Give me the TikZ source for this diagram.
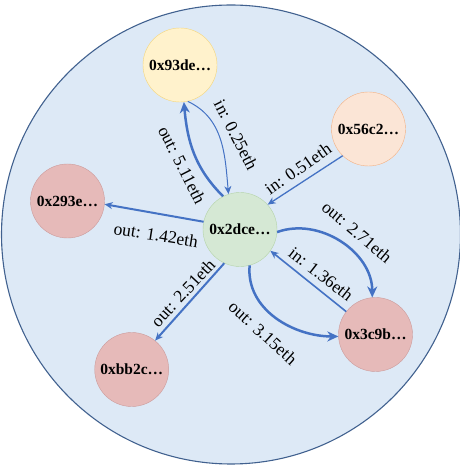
\documentclass[tikz,border=0pt]{standalone}
\usepackage{fontspec}
\setmainfont{Liberation Serif}
\usetikzlibrary{arrows.meta}

\definecolor{areaFill}{HTML}{DDE9F6}
\definecolor{areaLine}{HTML}{41618F}
\definecolor{flowBlue}{HTML}{4472C4}
\definecolor{greenFill}{HTML}{D5E8D4}
\definecolor{greenLine}{HTML}{B5D3A8}
\definecolor{yellowFill}{HTML}{FFF2CC}
\definecolor{yellowLine}{HTML}{F5D67A}
\definecolor{peachFill}{HTML}{FBE5D6}
\definecolor{peachLine}{HTML}{F4B183}
\definecolor{redFill}{HTML}{E6BAB9}
\definecolor{redLine}{HTML}{CC9B9B}

\newlength\acctRadius
\setlength\acctRadius{37pt}

\tikzset{
  acct/.style={circle, minimum size=2\acctRadius, inner sep=0pt,
    font=\fontsize{15.5}{18}\selectfont\bfseries},
  flow/.style={draw=flowBlue, -{Stealth[length=8pt, width=7pt, inset=2.5pt]}},
  bigflow/.style={flow, line width=2.5pt, -{Stealth[length=11pt, width=10pt, inset=3.5pt]}},
  amount/.style={font=\fontsize{17.5}{20}\selectfont, inner sep=0pt},
}

\begin{document}
\begin{tikzpicture}[x=1pt,y=1pt]
    \useasboundingbox (0,0) rectangle (460,466);

    % outer area
    \draw[draw=areaLine, fill=areaFill, line width=1.1pt] (231,231.5) circle (229.5);

    % accounts
    \foreach \name/\x/\y/\fillc/\linec/\txt in {
        a2dce/240/236.5/greenFill/greenLine/0x2dce…,
        a93de/180/401/yellowFill/yellowLine/0x93de…,
        a56c2/368.5/337/peachFill/peachLine/0x56c2…,
        a293e/67.5/265/redFill/redLine/0x293e…,
        a3c9b/375.5/131.5/redFill/redLine/0x3c9b…,
        abb2c/131.7/96.5/redFill/redLine/0xbb2c…} {
      \node[acct, fill=\fillc, draw=\linec] (\name) at (\x,\y) {\txt};
    }

    % flows
    \draw[bigflow] (a2dce.117) to[out=135,in=-85] (a93de.-84);
    \draw[flow, line width=1pt] (a93de.-78) to[out=-25,in=95] (a2dce.108);
    \draw[flow, line width=1.3pt] (a56c2.-134) -- (a2dce.42);
    \draw[flow, line width=2pt] (a2dce.168) -- (a293e.-5);
    \draw[flow, line width=2pt] (a2dce.-115) -- (abb2c.51);
    \draw[bigflow] (a2dce.-4) to[out=20,in=90] (a3c9b.95);
    \draw[flow, line width=1.6pt] (a3c9b.142) -- (a2dce.-35);
    \draw[bigflow] (a2dce.-75) to[out=-95,in=180] (a3c9b.183);

    % amounts
    \foreach \x/\y/\ang/\txt [count=\i] in {
        182/301/-63/out: 5.11eth,
        236/331/-63/in: 0.25eth,
        298/297/35/in: 0.51eth,
        156/231/-9/out: 1.42eth,
        183/173/47/out: 2.51eth,
        357/234/-40/out: 2.71eth,
        321/192/-38/in: 1.36eth,
        263/133/-42/out: 3.15eth} {
      \node[amount, rotate=\ang] (amt\i) at (\x,\y) {\txt};
    }
\end{tikzpicture}
\end{document}
